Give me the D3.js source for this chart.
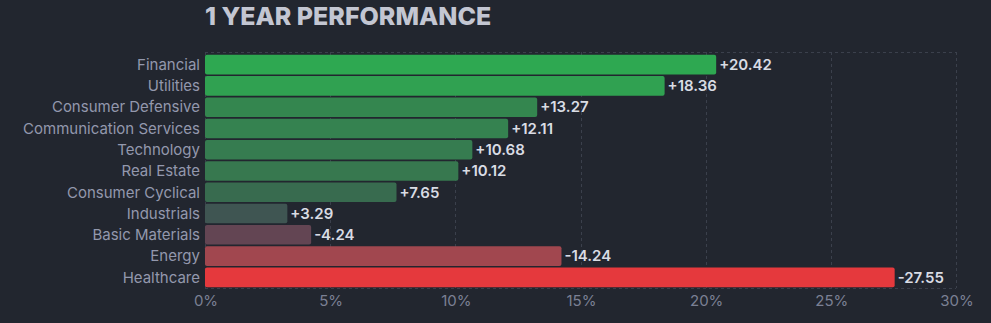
<!DOCTYPE html>
<html><head><meta charset="utf-8">
<script src="https://cdn.jsdelivr.net/npm/d3@7"></script>
<style>
html,body{margin:0;padding:0;background:#22262f;}
svg{display:block;font-family:Inter,"Noto Sans",sans-serif;}
</style></head><body>
<svg id="c" width="991" height="323"></svg>
<script>
const categories = ["Financial","Utilities","Consumer Defensive","Communication Services","Technology","Real Estate","Consumer Cyclical","Industrials","Basic Materials","Energy","Healthcare"];
const values = [20.42,18.36,13.27,12.11,10.68,10.12,7.65,3.29,-4.24,-14.24,-27.55];
const barColors = ["#2ea851","#30a151","#34864f","#358250","#367c50","#37784f","#386b4f","#3f5552","#634553","#a1474f","#e5393d"];
const ticks = [0,5,10,15,20,25,30];
const title = "1 YEAR PERFORMANCE";

const svg = d3.select("#c");
svg.append("rect").attr("width",991).attr("height",323).attr("fill","#22262f");
const x = d3.scaleLinear().domain([0,30]).range([205,956]);
const y = d3.scaleBand().domain(categories).range([54,288]).paddingInner(0.08).paddingOuter(0.04);

svg.append("text").attr("x",205).attr("y",25).attr("fill","#c3c6d2")
  .attr("font-size",25).attr("font-weight",800).text(title);

const grid = svg.append("g").attr("stroke","#3b404c").attr("stroke-dasharray","3,3").attr("stroke-width",1);
grid.append("line").attr("x1",205).attr("x2",956).attr("y1",52.5).attr("y2",52.5);
grid.append("line").attr("x1",205).attr("x2",956).attr("y1",288.5).attr("y2",288.5);
ticks.forEach(t=>{
  grid.append("line").attr("x1",Math.round(x(t))+0.5).attr("x2",Math.round(x(t))+0.5).attr("y1",52).attr("y2",288);
});

svg.append("g").selectAll("rect").data(categories).join("rect")
  .attr("x",x(0)).attr("y",d=>y(d)).attr("height",y.bandwidth())
  .attr("width",(d,i)=>x(Math.abs(values[i]))-x(0))
  .attr("rx",2).attr("fill",(d,i)=>barColors[i]);

svg.append("g").selectAll("text").data(categories).join("text")
  .attr("x",200).attr("y",d=>y(d)+y.bandwidth()/2).attr("dy","0.35em")
  .attr("text-anchor","end").attr("fill","#9398ad").attr("font-size",15).text(d=>d);

svg.append("g").selectAll("text").data(categories).join("text")
  .attr("x",(d,i)=>x(Math.abs(values[i]))+3).attr("y",d=>y(d)+y.bandwidth()/2).attr("dy","0.35em")
  .attr("fill","#d9dce4").attr("font-size",15).attr("font-weight",600)
  .text((d,i)=>(values[i]>=0?"+":"-")+Math.abs(values[i]).toFixed(2));

svg.append("g").selectAll("text").data(ticks).join("text")
  .attr("x",d=>x(d)+1).attr("y",301).attr("dy","0.35em").attr("text-anchor","middle")
  .attr("fill","#7b8094").attr("font-size",15).text(d=>d+"%");
</script></body></html>
